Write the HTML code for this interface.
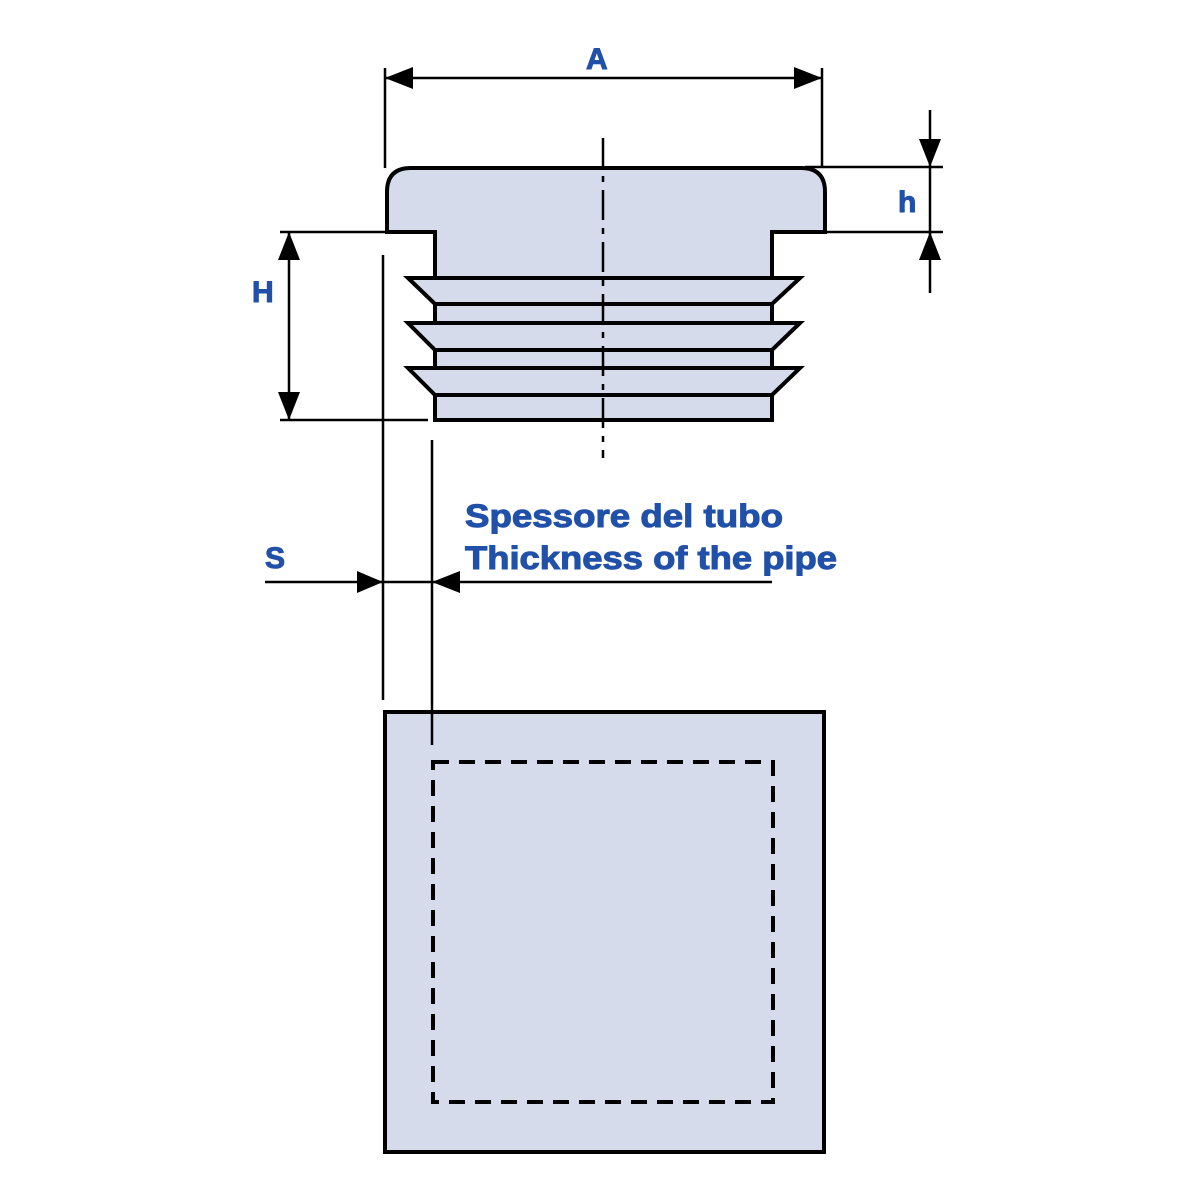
<!DOCTYPE html>
<html><head><style>html,body{margin:0;padding:0;background:#fff}svg{display:block}</style></head>
<body>
<svg width="1200" height="1200" viewBox="0 0 1200 1200" xmlns="http://www.w3.org/2000/svg">
<g stroke="#000" stroke-width="2.5" fill="none">
<line x1="385" y1="68" x2="385" y2="168"/>
<line x1="822" y1="68" x2="822" y2="168"/>
<line x1="385" y1="78" x2="822" y2="78"/>
<line x1="805" y1="167" x2="943" y2="167"/>
<line x1="280" y1="232" x2="387" y2="232"/>
<line x1="825" y1="232" x2="943" y2="232"/>
<line x1="930" y1="110" x2="930" y2="293"/>
<line x1="289" y1="232" x2="289" y2="420"/>
<line x1="280" y1="420" x2="428" y2="420"/>
<line x1="383" y1="255" x2="383" y2="700"/>
<line x1="265" y1="582" x2="772" y2="582"/>
</g>
<g stroke="#000" stroke-width="4" fill="#d6dbec" stroke-linejoin="miter">
<path d="M387 232 L387 192 Q387 168 411 168 L801 168 Q825 168 825 192 L825 232 L772 232 L772 278 L435 278 L435 232 Z"/>
<path d="M408 278 L800 278 L772 304 L435 304 Z"/>
<rect x="435" y="304" width="337" height="19"/>
<path d="M408 323 L800 323 L772 350 L435 350 Z"/>
<rect x="435" y="350" width="337" height="18"/>
<path d="M408 368 L800 368 L772 395 L435 395 Z"/>
<rect x="435" y="395" width="337" height="25"/>
<rect x="385" y="712" width="439" height="440"/>
</g>
<line x1="432" y1="440" x2="432" y2="745" stroke="#000" stroke-width="2.5"/>
<rect x="433" y="762" width="340" height="340" fill="none" stroke="#000" stroke-width="4" stroke-dasharray="16,10"/>
<line x1="603" y1="138" x2="603" y2="458" stroke="#000" stroke-width="2.5" stroke-dasharray="30,8,6,8"/>
<g fill="#000">
<path d="M385 78 L413 67 L413 89 Z"/>
<path d="M822 78 L794 67 L794 89 Z"/>
<path d="M930 167 L919 139 L941 139 Z"/>
<path d="M930 232 L919 260 L941 260 Z"/>
<path d="M289 232 L278 260 L300 260 Z"/>
<path d="M289 420 L278 392 L300 392 Z"/>
<path d="M383 582 L357 571 L357 593 Z"/>
<path d="M432 582 L460 571 L460 593 Z"/>
</g>
<g fill="#2050a8" font-family="Liberation Sans, sans-serif" font-weight="bold" stroke="#2050a8" stroke-width="1">
<text x="586" y="69" font-size="30">A</text>
<text x="898" y="212" font-size="30">h</text>
<text x="252" y="302" font-size="30">H</text>
<text x="265" y="568" font-size="30">S</text>
<text x="465" y="527" font-size="32" textLength="318" lengthAdjust="spacingAndGlyphs">Spessore del tubo</text>
<text x="465" y="569" font-size="32" textLength="372" lengthAdjust="spacingAndGlyphs">Thickness of the pipe</text>
</g>
</svg>
</body></html>
